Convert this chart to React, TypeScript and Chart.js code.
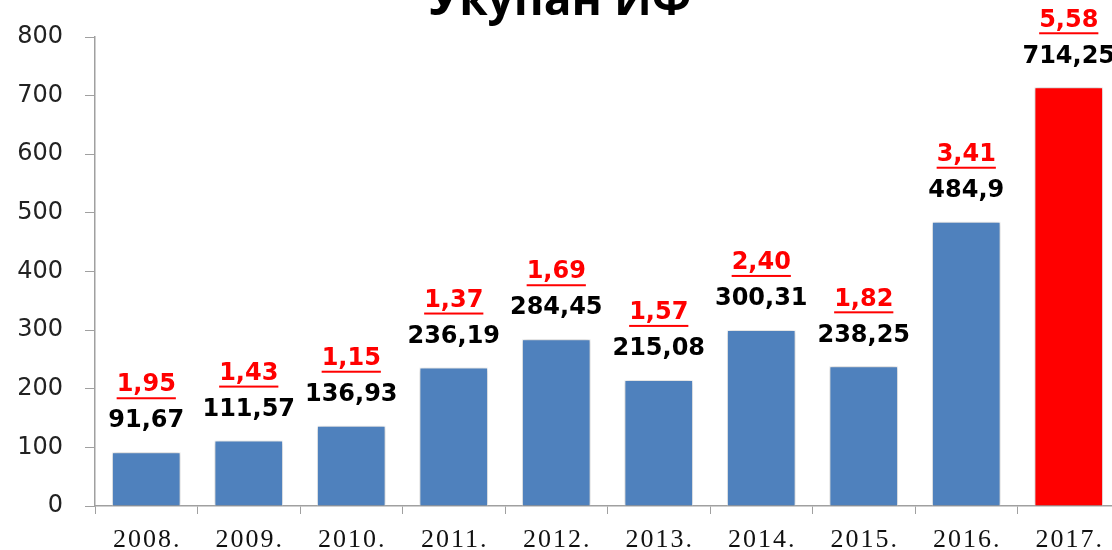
import React, { useEffect, useRef } from "react";
import { Chart, registerables } from "chart.js";

Chart.register(...registerables);

const categories = ["2008.", "2009.", "2010.", "2011.", "2012.", "2013.", "2014.", "2015.", "2016.", "2017."];
const values = [91.67, 111.57, 136.93, 236.19, 284.45, 215.08, 300.31, 238.25, 484.9, 714.25];
const valueLabels = ["91,67", "111,57", "136,93", "236,19", "284,45", "215,08", "300,31", "238,25", "484,9", "714,25"];
const ratioLabels = ["1,95", "1,43", "1,15", "1,37", "1,69", "1,57", "2,40", "1,82", "3,41", "5,58"];
const barColors = ["#4F81BD", "#4F81BD", "#4F81BD", "#4F81BD", "#4F81BD", "#4F81BD", "#4F81BD", "#4F81BD", "#4F81BD", "#FF0000"];
const yTicks = [0, 100, 200, 300, 400, 500, 600, 700, 800];
const titleText = "Укупан ИФ";

const LABEL_FONT = "bold 24px 'DejaVu Sans'";

const shadowPlugin = {
  id: "barShadow",
  beforeDatasetsDraw(chart: any) {
    const ctx = chart.ctx;
    ctx.save();
    ctx.shadowColor = "rgba(0,0,0,0.3)";
    ctx.shadowBlur = 5;
    ctx.shadowOffsetX = 0;
    ctx.shadowOffsetY = 0;
  },
  afterDatasetsDraw(chart: any) {
    chart.ctx.restore();
  },
};

const labelsPlugin = {
  id: "customLabels",
  afterDraw(chart: any) {
    const ctx = chart.ctx;
    const meta = chart.getDatasetMeta(0);
    const xScale = chart.scales.x;
    ctx.save();
    // title (partly cut off at top)
    ctx.font = "bold 46px 'Open Sans'";
    ctx.fillStyle = "#000";
    ctx.textAlign = "center";
    ctx.textBaseline = "alphabetic";
    ctx.fillText(titleText, 560, 15);

    // value labels
    ctx.font = LABEL_FONT;
    ctx.textBaseline = "middle";
    meta.data.forEach((bar: any, i: number) => {
      const x = bar.x;
      const top = bar.y;
      ctx.fillStyle = "#000";
      ctx.fillText(valueLabels[i], x, top - 31);
      ctx.fillStyle = "#FF0000";
      const ry = top - 67;
      ctx.fillText(ratioLabels[i], x, ry);
      const w = ctx.measureText(ratioLabels[i]).width;
      ctx.fillRect(x - w / 2, ry + 12, w, 2);
    });

    // x category labels with letter spacing
    ctx.font = "26px 'Liberation Serif'";
    ctx.fillStyle = "#111";
    ctx.textBaseline = "alphabetic";
    (ctx as any).letterSpacing = "2px";
    categories.forEach((c, i) => {
      const x = xScale.getPixelForValue(i);
      ctx.fillText(c, x + 1, 547);
    });
    ctx.restore();
  },
};

export default function App() {
  const ref = useRef<HTMLCanvasElement | null>(null);
  useEffect(() => {
    if (!ref.current) return;
    const chart = new Chart(ref.current, {
      type: "bar",
      data: {
        labels: categories,
        datasets: [
          {
            data: values,
            backgroundColor: barColors,
            borderColor: "rgba(255,255,255,0.9)",
            borderWidth: 1,
            barPercentage: 0.67,
            categoryPercentage: 1,
          },
        ],
      },
      options: {
        responsive: false,
        animation: false,
        layout: { padding: { top: 37, left: 0, right: 0, bottom: 0 } },
        plugins: {
          legend: { display: false },
          tooltip: { enabled: false },
          title: { display: false },
        },
        scales: {
          x: {
            grid: {
              display: true,
              drawOnChartArea: false,
              drawTicks: true,
              tickLength: 8,
              color: "#A0A0A0",
              offset: true,
            },
            border: { display: true, color: "#A0A0A0", width: 1.5 },
            ticks: { display: false },
            afterFit(scale: any) {
              scale.height = 44;
            },
          },
          y: {
            min: 0,
            max: 800,
            afterBuildTicks(scale: any) {
              scale.ticks = yTicks.map((v) => ({ value: v }));
            },
            grid: {
              display: true,
              drawOnChartArea: false,
              drawTicks: true,
              tickLength: 10,
              color: "#A0A0A0",
            },
            border: { display: true, color: "#A0A0A0", width: 1.5 },
            ticks: {
              padding: 22,
              color: "#222",
              font: { family: "'DejaVu Sans'", size: 24 },
            },
            afterFit(scale: any) {
              scale.width = 95;
            },
          },
        },
      },
      plugins: [shadowPlugin, labelsPlugin],
    });
    return () => chart.destroy();
  }, []);

  return (
    <div style={{ position: "fixed", left: 0, top: 0, width: 1112, height: 550, overflow: "hidden", background: "#fff" }}>
      <canvas ref={ref} width={1120} height={550} style={{ display: "block" }} />
    </div>
  );
}
